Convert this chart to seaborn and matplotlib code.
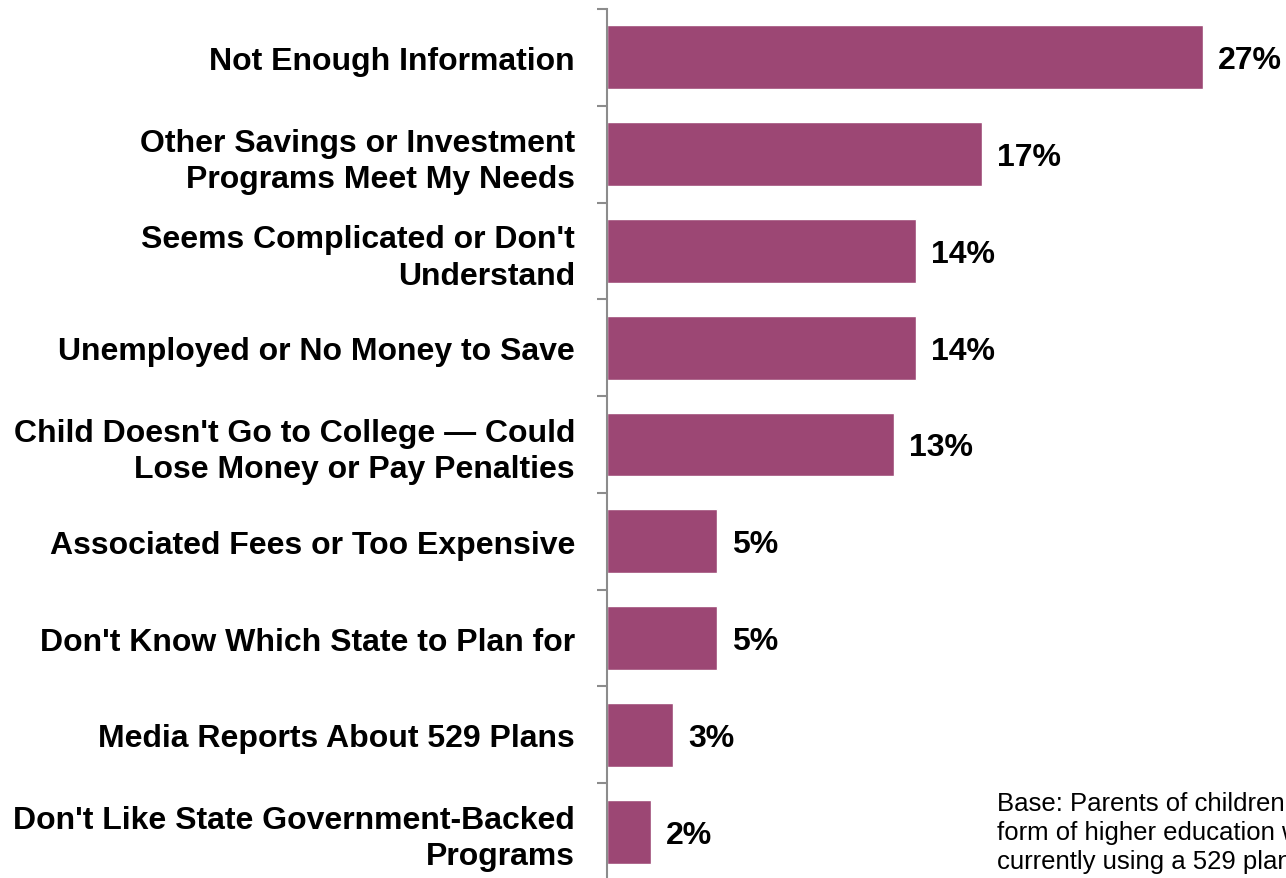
import matplotlib
matplotlib.use("Agg")
import matplotlib.pyplot as plt
import seaborn as sns
import pandas as pd
import numpy as np

reasons = [
    "Not Enough Information",
    "Other Savings or Investment\nPrograms Meet My Needs",
    "Seems Complicated or Don't\nUnderstand",
    "Unemployed or No Money to Save",
    "Child Doesn't Go to College \u2014 Could\nLose Money or Pay Penalties",
    "Associated Fees or Too Expensive",
    "Don't Know Which State to Plan for",
    "Media Reports About 529 Plans",
    "Don't Like State Government-Backed\nPrograms",
]
shares = [27, 17, 14, 14, 13, 5, 5, 3, 2]
value_labels = ["27%", "17%", "14%", "14%", "13%", "5%", "5%", "3%", "2%"]
base_note = ("Base: Parents of children planning on some\n"
             "form of higher education who are not\n"
             "currently using a 529 plan")

sns.set_style("white")
plt.rcParams["font.family"] = ["Liberation Sans", "DejaVu Sans"]

df = pd.DataFrame({"reason": reasons, "share": shares})

fig = plt.figure(figsize=(12.86, 8.79), dpi=100)
ax = fig.add_axes([607 / 1286, -2 / 879, 1 - 607 / 1286, 871 / 879])

sns.barplot(data=df, y="reason", x="share", orient="h", color="#9C4774",
            width=0.66, saturation=1, ax=ax)

ax.set_xlim(0, 679 / 22.07)
ax.set_ylim(len(reasons) - 0.5, -0.5)
ax.set_xlabel("")
ax.set_ylabel("")
ax.set_xticks([])

for s in ["top", "right", "bottom"]:
    ax.spines[s].set_visible(False)
ax.spines["left"].set_color("#8C8C8C")
ax.spines["left"].set_linewidth(1.5)

ax.set_yticks(np.arange(len(reasons)))
ax.set_yticklabels(reasons, fontsize=23, fontweight="bold", color="black",
                   linespacing=1.27)
ax.tick_params(axis="y", which="major", left=True, length=0, pad=23)
ax.set_yticks(np.arange(len(reasons)) - 0.5, minor=True)
ax.tick_params(axis="y", which="minor", left=True, length=7, width=1.5,
               color="#8C8C8C", direction="out")

for i, (v, lab) in enumerate(zip(shares, value_labels)):
    ax.text(v + 0.68, i + 0.03, lab, va="center", ha="left", fontsize=23,
            fontweight="bold", color="black")

fig.text(997 / 1286, 1 - 833 / 879, base_note, ha="left", va="center",
         fontsize=18.5, color="black", linespacing=1.25)

fig.savefig("out.png", dpi=100)
